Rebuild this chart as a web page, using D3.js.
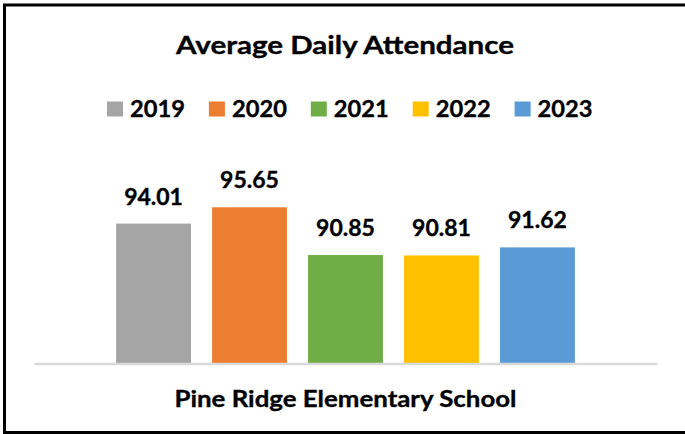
<!DOCTYPE html>
<html>
<head>
<meta charset="utf-8">
<script src="https://cdn.jsdelivr.net/npm/d3@7"></script>
<style>
  html, body { margin: 0; padding: 0; background: #fff; }
  svg { display: block; font-family: Lato, "Open Sans", sans-serif; font-weight: bold; }
  svg text { stroke: #000; stroke-width: 0.35px; }
</style>
</head>
<body>
<div id="chart"></div>
<script>
const category = "Pine Ridge Elementary School";
const years = ["2019", "2020", "2021", "2022", "2023"];
const attendance = [94.01, 95.65, 90.85, 90.81, 91.62];
const palette = ["#A5A5A5", "#ED7D31", "#70AD47", "#FFC000", "#5B9BD5"];
const yDomain = [80, 100];

const width = 685, height = 434;
const plot = { left: 34, right: 657, top: 164, bottom: 363 };

const svg = d3.select("#chart").append("svg")
  .attr("width", width)
  .attr("height", height);

svg.append("rect")
  .attr("width", width).attr("height", height)
  .attr("fill", "#fff");

// outer frame (right edge falls outside the picture)
svg.append("rect")
  .attr("x", 4.5).attr("y", 5)
  .attr("width", 720).attr("height", 427.5)
  .attr("fill", "none")
  .attr("stroke", "#000")
  .attr("stroke-width", 3);

svg.append("text")
  .attr("x", 345).attr("y", 54)
  .attr("text-anchor", "middle")
  .attr("font-size", 25)
  .attr("textLength", 338)
  .attr("lengthAdjust", "spacingAndGlyphs")
  .attr("fill", "#000")
  .text("Average Daily Attendance");

// legend
const legend = svg.append("g").attr("transform", "translate(107, 0)");
const item = legend.selectAll("g")
  .data(years)
  .enter().append("g")
  .attr("transform", (d, i) => `translate(${i * 101.9}, 0)`);
item.append("rect")
  .attr("y", 101.5).attr("width", 16).attr("height", 15)
  .attr("fill", (d, i) => palette[i]);
item.append("text")
  .attr("x", 23).attr("y", 116.5)
  .attr("font-size", 23)
  .attr("textLength", 55)
  .attr("lengthAdjust", "spacingAndGlyphs")
  .attr("fill", "#000")
  .text(d => d);

const x0 = d3.scaleBand()
  .domain([category])
  .range([plot.left, plot.right])
  .paddingInner(0)
  .paddingOuter(0.179);

const x1 = d3.scaleBand()
  .domain(years)
  .range([0, x0.bandwidth()])
  .paddingInner(0.22);

const y = d3.scaleLinear()
  .domain(yDomain)
  .range([plot.bottom, plot.top]);

const group = svg.append("g")
  .attr("transform", `translate(${x0(category)}, 0)`);

const bar = group.selectAll("g.bar")
  .data(years.map((yr, i) => ({ year: yr, value: attendance[i], color: palette[i] })))
  .enter().append("g")
  .attr("class", "bar");

bar.append("rect")
  .attr("x", d => x1(d.year))
  .attr("y", d => y(d.value))
  .attr("width", x1.bandwidth())
  .attr("height", d => y(yDomain[0]) - y(d.value))
  .attr("fill", d => d.color);

bar.append("text")
  .attr("x", d => x1(d.year) + x1.bandwidth() / 2)
  .attr("y", d => y(d.value) - 19)
  .attr("text-anchor", "middle")
  .attr("font-size", 23)
  .attr("fill", "#000")
  .text(d => d.value.toFixed(2));

// category axis
const xAxis = svg.append("g")
  .attr("transform", `translate(0, ${plot.bottom + 0.5})`)
  .call(d3.axisBottom(x0).tickSize(0).tickPadding(27));
xAxis.select(".domain")
  .attr("stroke", "#d9d9d9")
  .attr("stroke-width", 2.5);
xAxis.selectAll("text")
  .attr("font-size", 23)
  .attr("font-family", "Lato, sans-serif")
  .attr("font-weight", "bold")
  .attr("textLength", 342)
  .attr("lengthAdjust", "spacingAndGlyphs")
  .attr("fill", "#000");
</script>
</body>
</html>
